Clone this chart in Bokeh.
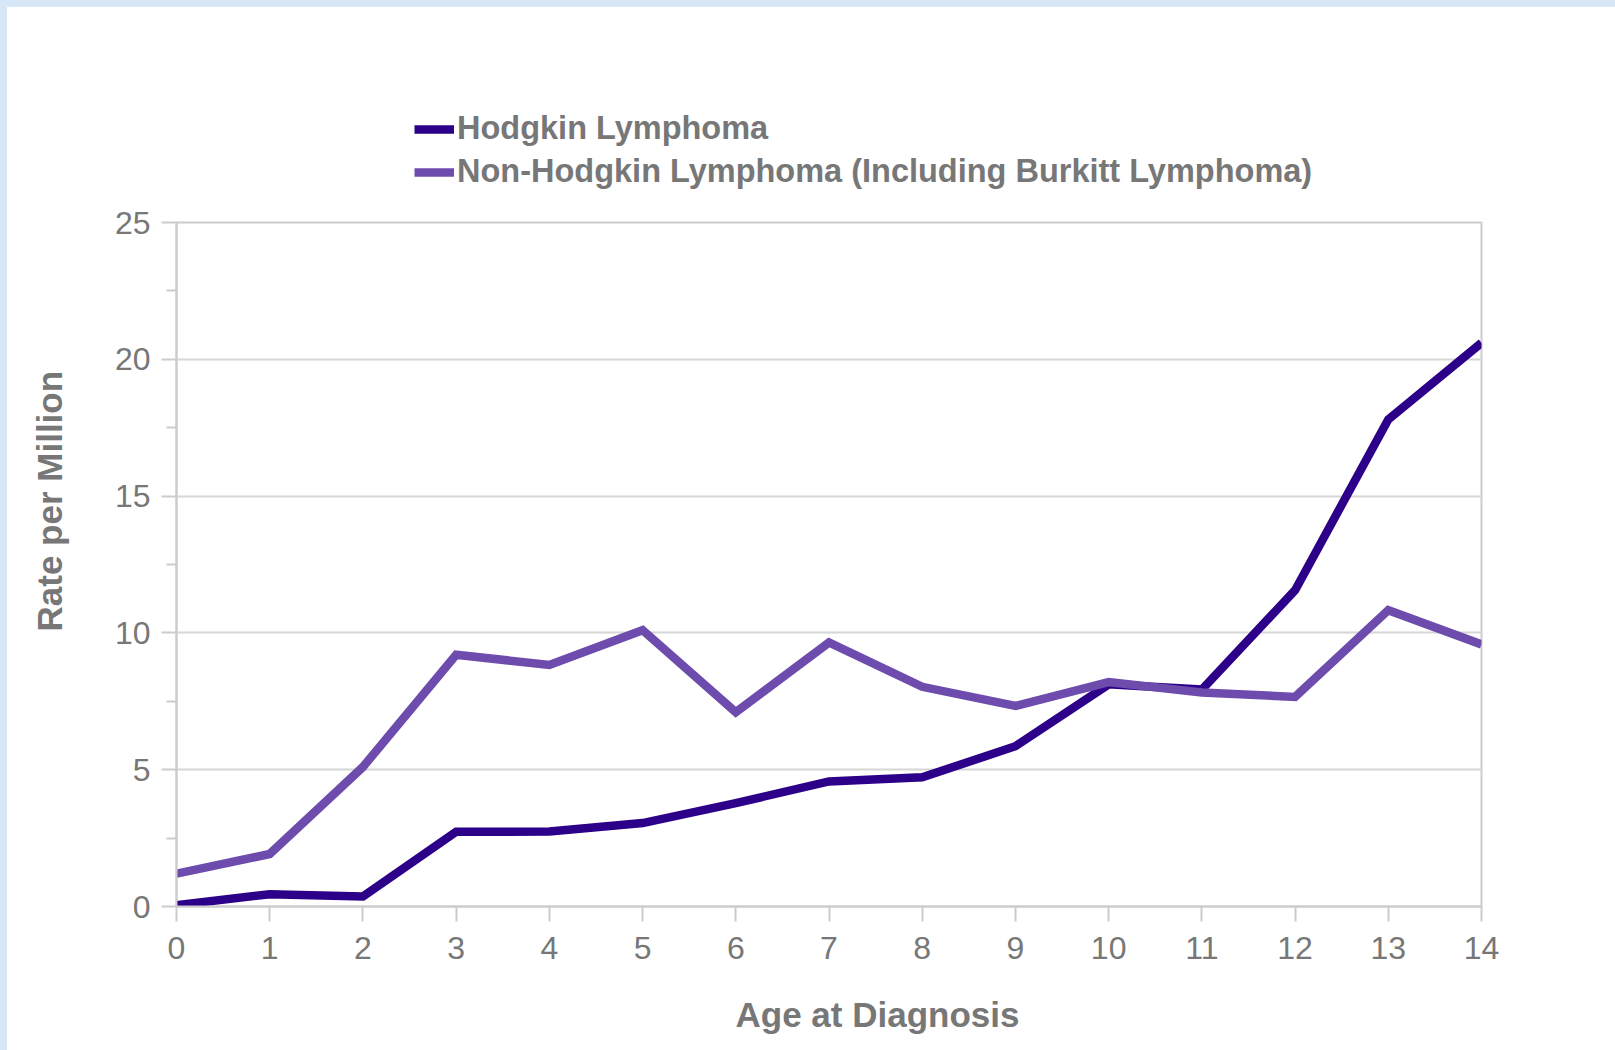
from bokeh.plotting import figure
from bokeh.models import FixedTicker, Legend, LegendItem, Range1d, Title, Spacer, Label
from bokeh.layouts import column, row
from bokeh.embed import file_html
from bokeh.resources import INLINE

# ---- data ----
ages = list(range(15))
hodgkin = [0.05, 0.45, 0.37, 2.73, 2.74, 3.05, 3.78, 4.57, 4.72, 5.86, 8.12, 7.93, 11.56, 17.8, 20.6]
nhl = [1.2, 1.92, 5.1, 9.2, 8.83, 10.1, 7.1, 9.65, 8.03, 7.33, 8.2, 7.82, 7.66, 10.83, 9.58]
series_names = ["Hodgkin Lymphoma", "Non-Hodgkin Lymphoma (Including Burkitt Lymphoma)"]
series_colors = ["#2d0089", "#6e4cae"]
y_ticks = [0, 5, 10, 15, 20, 25]
y_minor_ticks = [2.5, 7.5, 12.5, 17.5, 22.5]
x_ticks = ages
x_title = "Age at Diagnosis"
y_title = "Rate per Million"

FONT = "Liberation Sans"
GRAY = "#777777"
LINE_GRAY = "#cccccc"
BLUE = "#d8e7f7"
LINE_W = 8.5

YT_W = 90                 # strip holding the y-axis title
W = 1608 - YT_W           # width of legend strip, chart and x-title strip
TOP_H = 190
MAIN_H = 769
XT_H = 1043 - TOP_H - MAIN_H


def bare(width, height):
    f = figure(width=width, height=height, x_range=Range1d(100, 101), y_range=Range1d(100, 101),
               output_backend="svg", toolbar_location=None,
               x_axis_location=None, y_axis_location=None, min_border=0)
    f.outline_line_color = None
    f.grid.visible = False
    f.background_fill_color = "white"
    f.border_fill_color = "white"
    return f


# ---- y-axis title strip ----
ytf = bare(YT_W, 1043)
ytf.add_layout(Title(text=y_title, align="left", offset=419, standoff=40,
                     text_font=FONT, text_font_size="35px", text_font_style="bold",
                     text_color=GRAY), "left")

# ---- legend strip ----
lg = bare(W, TOP_H)
k1 = lg.line(ages, hodgkin, line_color=series_colors[0], line_width=LINE_W)
k2 = lg.line(ages, nhl, line_color=series_colors[1], line_width=LINE_W)
legend = Legend(items=[LegendItem(label=series_names[0], renderers=[k1]),
                       LegendItem(label=series_names[1], renderers=[k2])],
                location=(238, 7))
legend.padding = 0
legend.margin = 0
legend.spacing = 6
legend.glyph_width = 40
legend.glyph_height = 20
legend.label_standoff = 3
legend.label_text_font = FONT
legend.label_text_font_size = "32.5px"
legend.label_text_font_style = "bold"
legend.label_text_color = GRAY
legend.border_line_color = None
legend.background_fill_alpha = 0
lg.add_layout(legend, "center")

# ---- main chart ----
p = figure(width=W, height=MAIN_H,
           x_range=Range1d(0, 14), y_range=Range1d(0, 25),
           output_backend="svg", toolbar_location=None,
           min_border_left=79, min_border_right=134,
           min_border_top=25, min_border_bottom=60)
p.background_fill_color = "white"
p.border_fill_color = "white"
p.outline_line_color = LINE_GRAY
p.outline_line_width = 2

p.xaxis.ticker = FixedTicker(ticks=x_ticks)
p.yaxis.ticker = FixedTicker(ticks=y_ticks, minor_ticks=y_minor_ticks)
for ax in (p.xaxis[0], p.yaxis[0]):
    ax.axis_line_color = LINE_GRAY
    ax.axis_line_width = 2
    ax.major_tick_line_color = LINE_GRAY
    ax.major_tick_line_width = 2
    ax.major_tick_in = 0
    ax.major_tick_out = 15
    ax.minor_tick_in = 0
    ax.major_label_text_font = FONT
    ax.major_label_text_font_size = "32px"
    ax.major_label_text_color = GRAY

p.xaxis.minor_tick_line_color = None
p.yaxis.minor_tick_line_color = LINE_GRAY
p.yaxis.minor_tick_line_width = 2
p.yaxis.minor_tick_out = 10
p.xaxis.major_label_standoff = 15
p.yaxis.major_label_standoff = 11

p.xgrid.grid_line_color = None
p.ygrid.ticker = FixedTicker(ticks=y_ticks)
p.ygrid.grid_line_color = "#d6d6d6"
p.ygrid.grid_line_width = 2

p.line(ages, hodgkin, line_color=series_colors[0], line_width=LINE_W, line_join="miter")
p.line(ages, nhl, line_color=series_colors[1], line_width=LINE_W, line_join="miter")

# ---- x-axis title strip ----
xtf = bare(W, XT_H)
xtf.add_layout(Label(x=701, y=36, x_units="screen", y_units="screen",
                     text=x_title, text_align="center", text_baseline="middle",
                     text_font=FONT, text_font_size="35px", text_font_style="bold",
                     text_color=GRAY))

layout = column(Spacer(width=1615, height=7, styles={"background-color": BLUE}),
                row(Spacer(width=7, height=1043, styles={"background-color": BLUE}),
                    ytf,
                    column(lg, p, xtf, spacing=0),
                    spacing=0),
                spacing=0)

html = file_html(layout, INLINE)
open("out.html", "w").write(html)
